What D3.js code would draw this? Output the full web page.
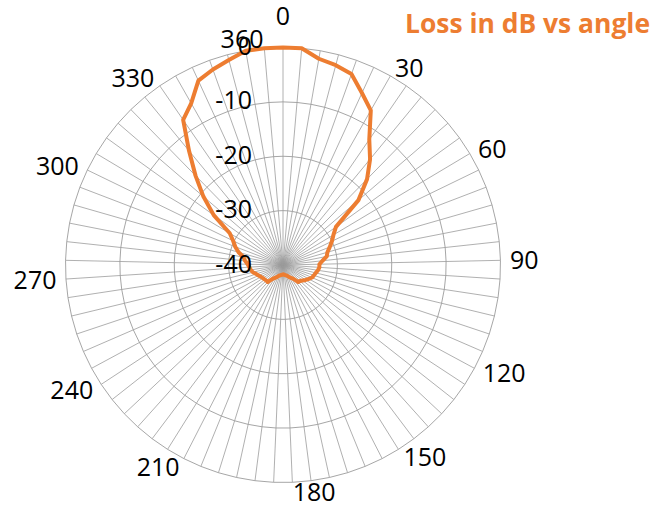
<!DOCTYPE html>
<html>
<head>
<meta charset="utf-8">
<script src="https://cdn.jsdelivr.net/npm/d3@7"></script>
<style>
  body { margin: 0; background: #fff; }
  text { font-family: "Open Sans", sans-serif; fill: #000; }
</style>
</head>
<body>
<svg id="chart" width="655" height="505"></svg>
<script>
// categories (degrees) and measured loss (dB)
var angles = [0, 5, 10, 15, 20, 25, 30, 35, 40, 45, 50, 55, 60, 65, 70, 75, 80, 85,
    90, 95, 100, 105, 110, 115, 120, 125, 130, 135, 140, 145, 150, 155, 160, 165, 170, 175,
    180, 185, 190, 195, 200, 205, 210, 215, 220, 225, 230, 235, 240, 245, 250, 255, 260, 265,
    270, 275, 280, 285, 290, 295, 300, 305, 310, 315, 320, 325, 330, 335, 340, 345, 350, 355, 360];
var loss = [0, 0, -1.5, -2, -2.7, -5.2, -7.3, -12, -14.8, -17.9, -21.7, -28, -29.2, -30, -30.8, -31.5, -31.8, -32.7,
    -33.3, -33.3, -33.5, -33.8, -34, -34.2, -34.6, -35, -35.4, -35.7, -35.8, -36.8, -37.2, -37.5, -37.8, -38, -38.1, -38.2,
    -38.3, -38.2, -38.2, -38.1, -38, -37.8, -37.5, -37.2, -36.8, -35.8, -35.8, -35.7, -35.6, -35.4, -35.1, -34.8, -34.3, -34,
    -33.8, -33.5, -33, -32.6, -31.5, -30.6, -29.8, -28.6, -24.3, -20.7, -17, -12.8, -7.6, -5.8, -2.7, -1.8, -1, 0, 0];
var ringValues = [-40, -30, -20, -10, 0];
var title = "Loss in dB vs angle";

var cx = 283, cy = 265, R = 217.5;
var orange = "#ED7D31";
var gridColor = "#9c9c9c";

var svg = d3.select("#chart");

var r = d3.scaleLinear().domain([-40, 0]).range([0, R]);
var a = d3.scaleLinear().domain([0, angles.length]).range([0, 2 * Math.PI]);

var g = svg.append("g")
    .attr("transform", "translate(" + cx + "," + cy + ")");

// spokes
g.selectAll(".spoke")
    .data(angles)
    .enter()
    .append("line")
    .attr("class", "spoke")
    .attr("x1", 0).attr("y1", 0)
    .attr("x2", function (d, i) { return r(0) * Math.sin(a(i)); })
    .attr("y2", function (d, i) { return -r(0) * Math.cos(a(i)); })
    .attr("stroke", gridColor)
    .attr("stroke-width", 0.8);

// rings (polygons through every spoke)
var ringLine = d3.lineRadial()
    .angle(function (d, i) { return a(i); })
    .curve(d3.curveLinearClosed);

g.selectAll(".ring")
    .data(ringValues.slice(1))
    .enter()
    .append("path")
    .attr("class", "ring")
    .attr("d", function (v) { return ringLine.radius(r(v))(angles); })
    .attr("fill", "none")
    .attr("stroke", gridColor)
    .attr("stroke-width", 0.9);

// data line
var dataLine = d3.lineRadial()
    .angle(function (d, i) { return a(i); })
    .radius(function (d) { return r(d); })
    .curve(d3.curveLinearClosed);

g.append("path")
    .attr("d", dataLine(loss))
    .attr("fill", "none")
    .attr("stroke", orange)
    .attr("stroke-width", 4)
    .attr("stroke-linejoin", "round");

// category labels, every 30 degrees
// note: right half anchored at start, left half at end (like the original)
var labelR = 227;
g.selectAll(".cat")
    .data(angles.filter(function (d, i) { return i % 6 === 0; }))
    .enter()
    .append("text")
    .attr("class", "cat")
    .style("font-size", "25px")
    .attr("text-anchor", function (d) {
        var t = a(angles.indexOf(d)) * 180 / Math.PI;
        if (t === 0) return "middle";
        return t < 180 ? "start" : "end";
    })
    .attr("x", function (d) {
        var t = a(angles.indexOf(d));
        return labelR * Math.sin(t);
    })
    .attr("y", function (d) {
        var t = a(angles.indexOf(d));
        if (t === 0) return -240;
        return -labelR * Math.cos(t);
    })
    .attr("dy", function (d) { return angles.indexOf(d) === 0 ? 0 : "0.36em"; })
    .text(function (d) { return d; });

// value labels along the vertical axis
g.selectAll(".val")
    .data(ringValues)
    .enter()
    .append("text")
    .attr("class", "val")
    .style("font-size", "25px")
    .attr("text-anchor", "end")
    .attr("x", -31)
    .attr("y", function (v) { return -r(v) - 1.5; })
    .attr("dy", "0.36em")
    .text(function (v) { return v; });

// title
svg.append("text")
    .attr("x", 650)
    .attr("y", 33)
    .attr("text-anchor", "end")
    .attr("textLength", 245)
    .attr("lengthAdjust", "spacingAndGlyphs")
    .style("font-size", "26px")
    .style("font-weight", "bold")
    .style("fill", orange)
    .text(title);
</script>
</body>
</html>
